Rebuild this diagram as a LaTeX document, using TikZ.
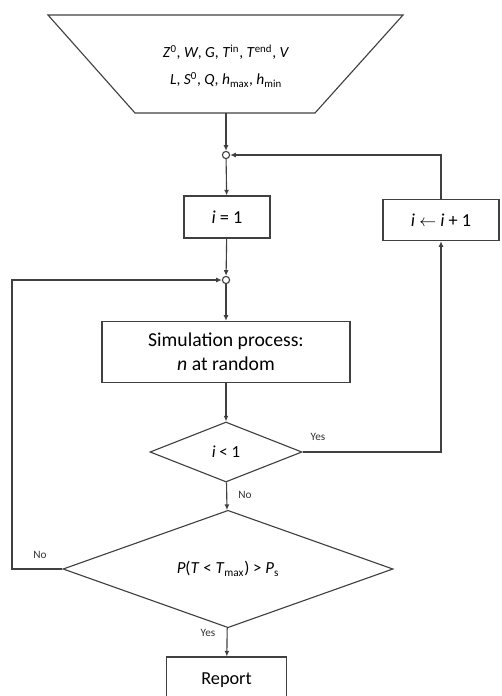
\documentclass[tikz,border=0pt]{standalone}
\usepackage{fontspec}
\setmainfont{Carlito}
\usetikzlibrary{arrows.meta,shapes.geometric,positioning}

\begin{document}
\begin{tikzpicture}[x=0.025cm,y=-0.025cm,
        line/.style={draw=black!75,line width=0.8pt},
        arr/.style={line,-{Latex[length=4pt,width=3.5pt]}},
        box/.style={line,rectangle,fill=white,inner sep=0pt,font=\fontsize{13}{16}\selectfont},
        dec/.style={line,diamond,inner sep=0pt,font=\fontsize{12}{15}\selectfont},
        junc/.style={line,circle,fill=white,inner sep=0pt,minimum size=0.18cm},
        lbl/.style={font=\fontsize{8}{10}\selectfont,text=black!80}]
    \clip (0,0) rectangle (501,696);

    % input data
    \draw[line] (48,15) -- (403,15) -- (315,113) -- (135,113) -- cycle;
    \node[align=center,font=\fontsize{11}{19}\selectfont] (input) at (226,66)
        {\textit{Z}\textsuperscript{0}, \textit{W}, \textit{G}, \textit{T}\textsuperscript{in}, \textit{T}\textsuperscript{end}, \textit{V}\\
         \textit{L}, \textit{S}\textsuperscript{0}, \textit{Q}, \textit{h}\textsubscript{max}, \textit{h}\textsubscript{min}};
    \coordinate (inbot) at (226,113);

    \node[junc] (j1) at (226,155) {};
    \node[box,minimum width=2.15cm,minimum height=1.05cm] (init) at (227,217) {\textit{i} = 1};
    \node[box,minimum width=2.9cm,minimum height=1.03cm] (incr) at (441,220) {\textit{i} $\leftarrow$ \textit{i} + 1};
    \node[junc] (j2) at (226,280) {};
    \node[box,align=center,font=\fontsize{14}{17}\selectfont,minimum width=6.2cm,minimum height=1.53cm] (sim) at (226,352)
        {Simulation process:\\\textit{n} at random};
    \node[dec,minimum width=3.8cm,minimum height=1.5cm] (test1) at (226,452) {\textit{i} {\textless} 1};
    \node[dec,minimum width=8.25cm,minimum height=2.45cm] (test2) at (228,569)
        {\textit{P}(\textit{T} {\textless} \textit{T}\textsubscript{max}) {\textgreater} \textit{P}\textsubscript{s}};
    \node[box,minimum width=2.98cm,minimum height=1.15cm] (report) at (226.5,680) {Report};
    \coordinate (back) at (12,280);

    \node[lbl] (yes1) at (318,437) {Yes};
    \node[lbl] (no1) at (245,495) {No};
    \node[lbl] (no2) at (40,555) {No};
    \node[lbl] (yes2) at (208,633) {Yes};

    \draw[arr] (inbot) -- (j1);
    \draw[arr] (j1) -- (init);
    \draw[arr] (incr.north) |- (j1);
    \draw[arr] (init) -- (j2);
    \draw[arr] (j2) -- (sim);
    \draw[arr] (sim) -- (test1);
    \draw[arr] (test1.east) -| (incr.south);
    \draw[arr] (test1) -- (test2);
    \draw[arr] (test2.west) -| (back) -- (j2);
    \draw[arr] (test2) -- (report);
\end{tikzpicture}
\end{document}
